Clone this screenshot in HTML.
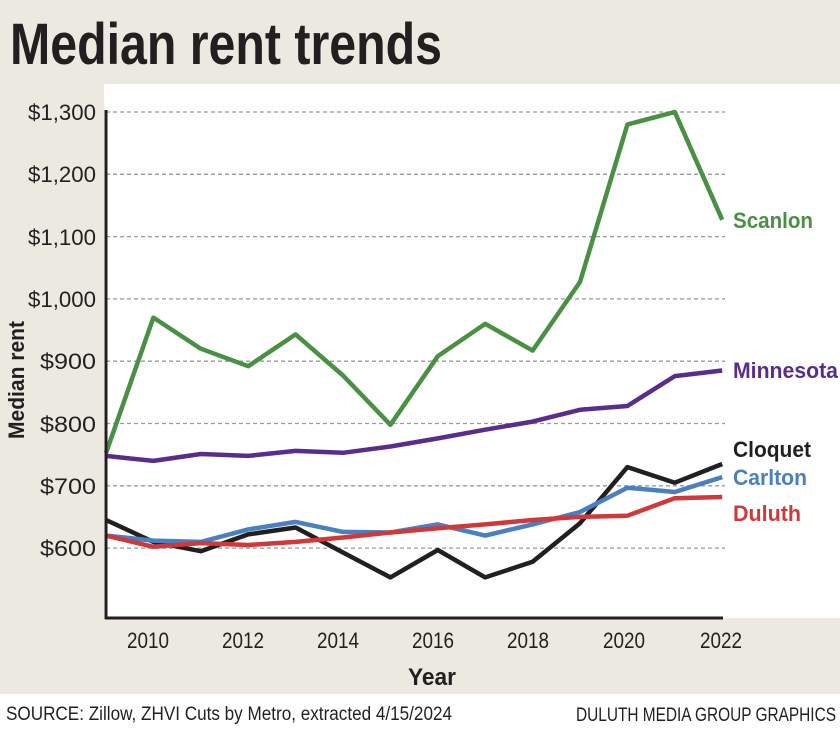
<!DOCTYPE html>
<html><head><meta charset="utf-8"><style>
html,body{margin:0;padding:0;background:#ece9e1}
svg{display:block}
</style></head><body>
<svg width="840" height="730" xmlns="http://www.w3.org/2000/svg" font-family="Liberation Sans, sans-serif">
<rect width="840" height="730" fill="#ece9e1"/>
<rect x="104" y="84" width="736" height="534" fill="#fff"/>
<rect x="0" y="694" width="840" height="36" fill="#fff"/>
<text x="10" y="64" font-size="58" font-weight="bold" fill="#231f20" textLength="432" lengthAdjust="spacingAndGlyphs">Median rent trends</text>
<g stroke="#999" stroke-width="1.3" stroke-dasharray="4,3">
<line x1="106" x2="725" y1="112" y2="112"/><line x1="106" x2="725" y1="174.3" y2="174.3"/>
<line x1="106" x2="725" y1="236.6" y2="236.6"/><line x1="106" x2="725" y1="298.9" y2="298.9"/>
<line x1="106" x2="725" y1="361.2" y2="361.2"/><line x1="106" x2="725" y1="423.5" y2="423.5"/>
<line x1="106" x2="725" y1="485.8" y2="485.8"/><line x1="106" x2="725" y1="548.1" y2="548.1"/>
</g>
<g font-size="22" fill="#231f20" text-anchor="end">
<text x="96" y="120" textLength="68" lengthAdjust="spacingAndGlyphs">$1,300</text>
<text x="96" y="182" textLength="68" lengthAdjust="spacingAndGlyphs">$1,200</text>
<text x="96" y="245" textLength="68" lengthAdjust="spacingAndGlyphs">$1,100</text>
<text x="96" y="307" textLength="68" lengthAdjust="spacingAndGlyphs">$1,000</text>
<text x="96" y="369" textLength="56" lengthAdjust="spacingAndGlyphs">$900</text>
<text x="96" y="432" textLength="56" lengthAdjust="spacingAndGlyphs">$800</text>
<text x="96" y="494" textLength="56" lengthAdjust="spacingAndGlyphs">$700</text>
<text x="96" y="556" textLength="56" lengthAdjust="spacingAndGlyphs">$600</text>
</g>
<text transform="translate(24,380) rotate(-90)" font-size="22" font-weight="bold" fill="#231f20" text-anchor="middle" textLength="118" lengthAdjust="spacingAndGlyphs">Median rent</text>
<g font-size="22" fill="#231f20" text-anchor="middle">
<text x="148" y="648" textLength="42" lengthAdjust="spacingAndGlyphs">2010</text>
<text x="243" y="648" textLength="42" lengthAdjust="spacingAndGlyphs">2012</text>
<text x="338" y="648" textLength="42" lengthAdjust="spacingAndGlyphs">2014</text>
<text x="433" y="648" textLength="42" lengthAdjust="spacingAndGlyphs">2016</text>
<text x="528" y="648" textLength="42" lengthAdjust="spacingAndGlyphs">2018</text>
<text x="624" y="648" textLength="42" lengthAdjust="spacingAndGlyphs">2020</text>
<text x="721" y="648" textLength="42" lengthAdjust="spacingAndGlyphs">2022</text>
</g>
<text x="432" y="685" font-size="24" font-weight="bold" fill="#231f20" text-anchor="middle" textLength="48" lengthAdjust="spacingAndGlyphs">Year</text>
<g fill="none" stroke-width="4.5" stroke-linejoin="round">
<polyline stroke="#4a9044" points="106,453 153.4,317.6 200.8,348.7 248.2,366.2 295.6,334.4 343,375.5 390.4,424.8 437.8,356.2 485.2,323.8 532.6,350.6 580,282 627.4,124.5 674.8,112 722.2,219.8"/>
<polyline stroke="#5a2d8c" points="106,455.9 153.4,460.9 200.8,454 248.2,455.9 295.6,450.9 343,452.8 390.4,446.5 437.8,438.4 485.2,429.7 532.6,421.6 580,409.8 627.4,406 674.8,376.1 722.2,370.5"/>
<polyline stroke="#231f20" points="106,520 153.4,541.9 200.8,551.2 248.2,534.4 295.6,527.5 343,552.5 390.4,577.4 437.8,550 485.2,577.4 532.6,561.8 580,523.2 627.4,467.1 674.8,482.7 722.2,464"/>
<polyline stroke="#4a7fc1" points="106,535.6 153.4,540.6 200.8,541.9 248.2,529.4 295.6,521.9 343,531.9 390.4,532.5 437.8,524.4 485.2,535.6 532.6,524.4 580,512 627.4,487.7 674.8,492 722.2,477.1"/>
<polyline stroke="#d0393a" points="106,535.6 153.4,546.8 200.8,543.1 248.2,545 295.6,541.9 343,537.5 390.4,532.5 437.8,528.2 485.2,524.4 532.6,520 580,516.9 627.4,515.7 674.8,498.2 722.2,497"/>
</g>
<line x1="106" y1="110" x2="106" y2="619" stroke="#231f20" stroke-width="3"/>
<line x1="105" y1="618" x2="723" y2="618" stroke="#231f20" stroke-width="3"/>
<g font-size="22" font-weight="bold">
<text x="733" y="228" fill="#4a9044" textLength="80" lengthAdjust="spacingAndGlyphs">Scanlon</text>
<text x="733" y="378" fill="#5a2d8c" textLength="105" lengthAdjust="spacingAndGlyphs">Minnesota</text>
<text x="733" y="457" fill="#231f20" textLength="78" lengthAdjust="spacingAndGlyphs">Cloquet</text>
<text x="733" y="485" fill="#4a7fc1" textLength="74" lengthAdjust="spacingAndGlyphs">Carlton</text>
<text x="733" y="521" fill="#d0393a" textLength="68" lengthAdjust="spacingAndGlyphs">Duluth</text>
</g>
<text x="6" y="720" font-size="19" fill="#231f20" textLength="446" lengthAdjust="spacingAndGlyphs">SOURCE: Zillow, ZHVI Cuts by Metro, extracted 4/15/2024</text>
<text x="836" y="721" font-size="19" fill="#231f20" text-anchor="end" textLength="260" lengthAdjust="spacingAndGlyphs">DULUTH MEDIA GROUP GRAPHICS</text>
</svg>
</body></html>
